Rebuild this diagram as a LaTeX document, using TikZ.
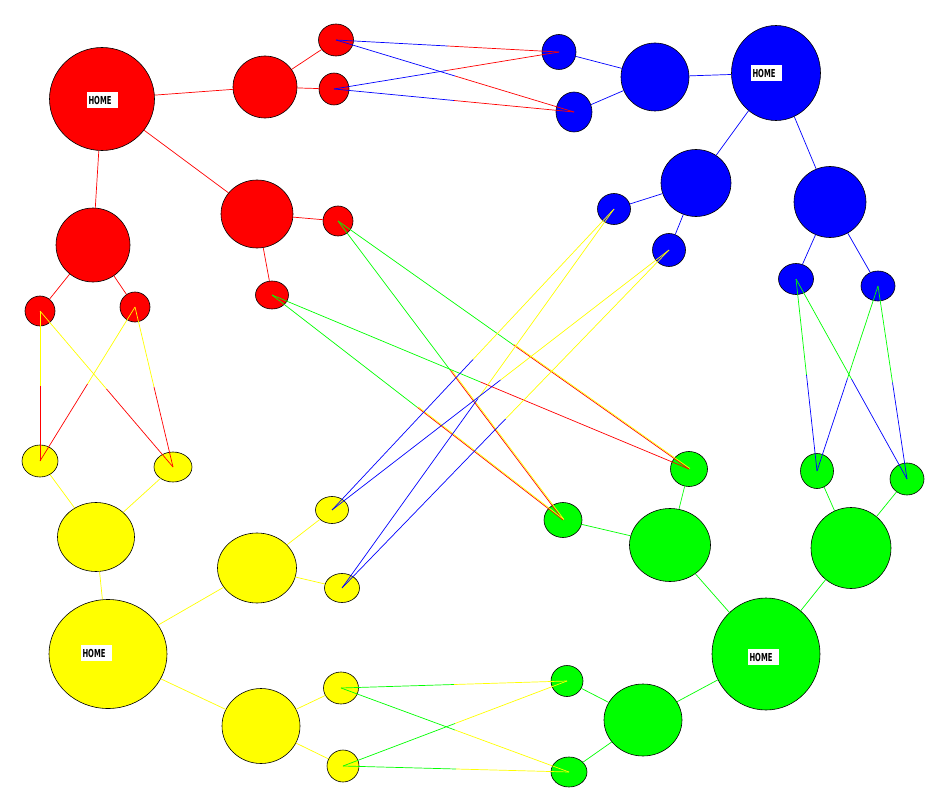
\documentclass[tikz,border=0pt]{standalone}
\usepackage{tikz}
\usepackage{fontspec}
\usetikzlibrary{shapes.geometric, calc}
\newfontfamily\lblfont{DejaVu Sans}
\definecolor{netred}{RGB}{255,0,0}
\definecolor{netblue}{RGB}{0,0,255}
\definecolor{netyellow}{RGB}{255,255,0}
\definecolor{netgreen}{RGB}{0,255,0}
% cross link: first half coloured #3, second half coloured #4
\newcommand{\xlink}[4]{%
  \draw[link, #3] (#1.center) -- ($(#1.center)!0.5!(#2.center)$);
  \draw[link, #4] ($(#1.center)!0.5!(#2.center)$) -- (#2.center);}

\begin{document}
\begin{tikzpicture}[x=1pt, y=-1pt,
    dot/.style 2 args={ellipse, draw=black, line width=0.6pt, inner sep=0pt,
                       minimum width=#1pt, minimum height=#2pt},
    homelbl/.style={fill=white, inner xsep=2pt, inner ysep=0pt, text width=27pt,
                    minimum height=16pt, align=left,
                    font=\lblfont\bfseries\fontsize{11}{11}\selectfont},
    link/.style={line width=0.7pt},
    redyel/.style={netred, postaction={draw=netyellow, line width=0.7pt,
                   transform canvas={shift={(0.9pt,0.5pt)}}}}
  ]
  \useasboundingbox (0,0) rectangle (935,797);

  % red group
  \node[dot={105}{103}, fill=netred] (rhome) at (102,99) {};
  \node[dot={64}{62}, fill=netred] (r1) at (265,87) {};
  \node[dot={35}{32}, fill=netred] (r1a) at (336,40) {};
  \node[dot={30}{32}, fill=netred] (r1b) at (334,89) {};
  \node[dot={72}{68}, fill=netred] (r2) at (257,214) {};
  \node[dot={30}{30}, fill=netred] (r2a) at (338,221) {};
  \node[dot={33}{28}, fill=netred] (r2b) at (272,295) {};
  \node[dot={74}{74}, fill=netred] (r3) at (93,245) {};
  \node[dot={30}{30}, fill=netred] (r3a) at (40,311) {};
  \node[dot={30}{30}, fill=netred] (r3b) at (135,307) {};

  % blue group
  \node[dot={89}{95}, fill=netblue] (bhome) at (776,73) {};
  \node[dot={68}{68}, fill=netblue] (b1) at (655,77) {};
  \node[dot={34}{35}, fill=netblue] (b1a) at (559,52) {};
  \node[dot={36}{40}, fill=netblue] (b1b) at (574,112) {};
  \node[dot={70}{67}, fill=netblue] (b2) at (696,183) {};
  \node[dot={33}{31}, fill=netblue] (b2a) at (614,209) {};
  \node[dot={33}{33}, fill=netblue] (b2b) at (669,250) {};
  \node[dot={72}{71}, fill=netblue] (b3) at (830,202) {};
  \node[dot={35}{31}, fill=netblue] (b3a) at (796,279) {};
  \node[dot={34}{30}, fill=netblue] (b3b) at (878,286) {};

  % yellow group
  \node[dot={118}{109}, fill=netyellow] (yhome) at (108,654) {};
  \node[dot={77}{69}, fill=netyellow] (y1) at (96,537) {};
  \node[dot={36}{32}, fill=netyellow] (y1a) at (40,461) {};
  \node[dot={38}{30}, fill=netyellow] (y1b) at (173,467) {};
  \node[dot={79}{70}, fill=netyellow] (y2) at (257,568) {};
  \node[dot={33}{27}, fill=netyellow] (y2a) at (332,510) {};
  \node[dot={35}{29}, fill=netyellow] (y2b) at (342,588) {};
  \node[dot={78}{75}, fill=netyellow] (y3) at (261,726) {};
  \node[dot={35}{32}, fill=netyellow] (y3a) at (341,688) {};
  \node[dot={32}{32}, fill=netyellow] (y3b) at (343,766) {};

  % green group
  \node[dot={108}{112}, fill=netgreen] (ghome) at (766,654) {};
  \node[dot={78}{72}, fill=netgreen] (g1) at (643,720) {};
  \node[dot={32}{31}, fill=netgreen] (g1a) at (567,681) {};
  \node[dot={36}{30}, fill=netgreen] (g1b) at (569,772) {};
  \node[dot={81}{73}, fill=netgreen] (g2) at (670,545) {};
  \node[dot={37}{35}, fill=netgreen] (g2a) at (689,469) {};
  \node[dot={38}{35}, fill=netgreen] (g2b) at (563,520) {};
  \node[dot={80}{81}, fill=netgreen] (g3) at (851,548) {};
  \node[dot={33}{35}, fill=netgreen] (g3a) at (817,471) {};
  \node[dot={34}{32}, fill=netgreen] (g3b) at (907,479) {};

  % home labels
  \node[homelbl] (rlbl) at (102,100) {\scalebox{0.62}[1]{HOME}};
  \node[homelbl] (blbl) at (766,73) {\scalebox{0.62}[1]{HOME}};
  \node[homelbl] (ylbl) at (96,653) {\scalebox{0.62}[1]{HOME}};
  \node[homelbl] (glbl) at (763,657) {\scalebox{0.62}[1]{HOME}};

  % links inside each group
  \draw[link, netred] (rhome) -- (r1);
  \draw[link, netred] (r1) -- (r1a);
  \draw[link, netred] (r1) -- (r1b);
  \draw[link, netred] (rhome) -- (r2);
  \draw[link, netred] (r2) -- (r2a);
  \draw[link, netred] (r2) -- (r2b);
  \draw[link, netred] (rhome) -- (r3);
  \draw[link, netred] (r3) -- (r3a);
  \draw[link, netred] (r3) -- (r3b);

  \draw[link, netblue] (bhome) -- (b1);
  \draw[link, netblue] (b1) -- (b1a);
  \draw[link, netblue] (b1) -- (b1b);
  \draw[link, netblue] (bhome) -- (b2);
  \draw[link, netblue] (b2) -- (b2a);
  \draw[link, netblue] (b2) -- (b2b);
  \draw[link, netblue] (bhome) -- (b3);
  \draw[link, netblue] (b3) -- (b3a);
  \draw[link, netblue] (b3) -- (b3b);

  \draw[link, netyellow] (yhome) -- (y1);
  \draw[link, netyellow] (y1) -- (y1a);
  \draw[link, netyellow] (y1) -- (y1b);
  \draw[link, netyellow] (yhome) -- (y2);
  \draw[link, netyellow] (y2) -- (y2a);
  \draw[link, netyellow] (y2) -- (y2b);
  \draw[link, netyellow] (yhome) -- (y3);
  \draw[link, netyellow] (y3) -- (y3a);
  \draw[link, netyellow] (y3) -- (y3b);

  \draw[link, netgreen] (ghome) -- (g1);
  \draw[link, netgreen] (g1) -- (g1a);
  \draw[link, netgreen] (g1) -- (g1b);
  \draw[link, netgreen] (ghome) -- (g2);
  \draw[link, netgreen] (g2) -- (g2a);
  \draw[link, netgreen] (g2) -- (g2b);
  \draw[link, netgreen] (ghome) -- (g3);
  \draw[link, netgreen] (g3) -- (g3a);
  \draw[link, netgreen] (g3) -- (g3b);

  % links between groups
  \xlink{r1a}{b1a}{netblue}{netred}
  \xlink{r1a}{b1b}{netblue}{netred}
  \xlink{r1b}{b1a}{netblue}{netred}
  \xlink{r1b}{b1b}{netblue}{netred}

  \xlink{r3a}{y1a}{netyellow}{netred}
  \xlink{r3a}{y1b}{netyellow}{netred}
  \xlink{r3b}{y1a}{netyellow}{netred}
  \xlink{r3b}{y1b}{netyellow}{netred}

  \xlink{r2a}{g2a}{netgreen}{redyel}
  \xlink{r2a}{g2b}{netgreen}{redyel}
  \xlink{r2b}{g2a}{netgreen}{netred}
  \xlink{r2b}{g2b}{netgreen}{redyel}

  \xlink{b2a}{y2a}{netyellow}{netblue}
  \xlink{b2a}{y2b}{netyellow}{netblue}
  \xlink{b2b}{y2a}{netyellow}{netblue}
  \xlink{b2b}{y2b}{netyellow}{netblue}

  \xlink{b3a}{g3a}{netgreen}{netblue}
  \xlink{b3a}{g3b}{netgreen}{netblue}
  \xlink{b3b}{g3a}{netgreen}{netblue}
  \xlink{b3b}{g3b}{netgreen}{netblue}

  \xlink{y3a}{g1a}{netgreen}{netyellow}
  \xlink{y3a}{g1b}{netgreen}{netyellow}
  \xlink{y3b}{g1a}{netgreen}{netyellow}
  \xlink{y3b}{g1b}{netgreen}{netyellow}
\end{tikzpicture}
\end{document}
